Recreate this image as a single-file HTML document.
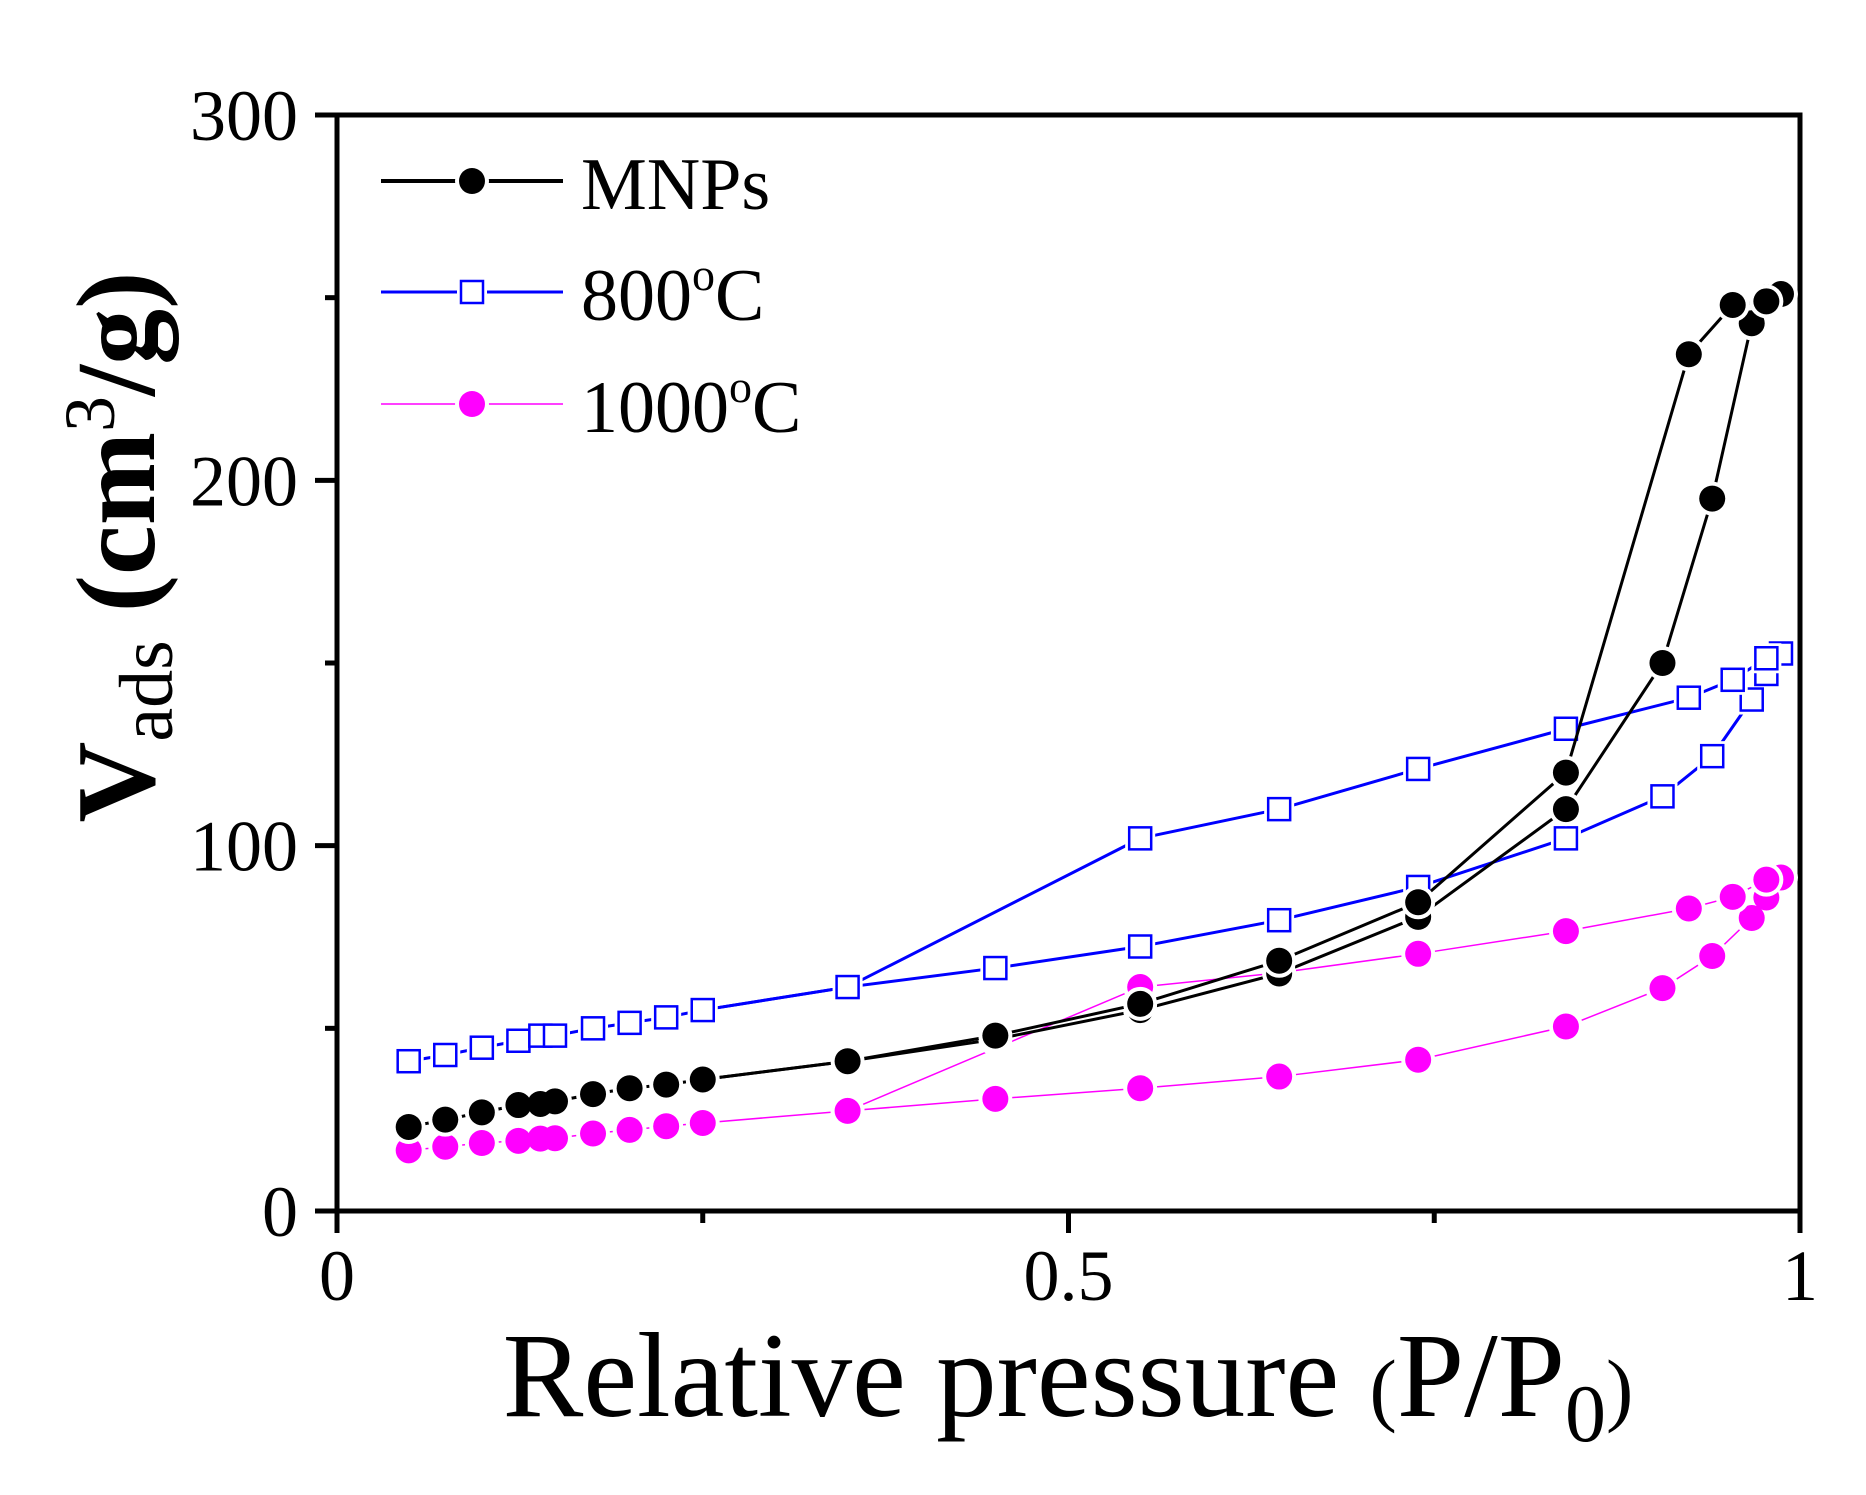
<!DOCTYPE html>
<html><head><meta charset="utf-8"><style>
html,body{margin:0;padding:0;background:#fff}
svg{display:block}
text{font-family:"Liberation Serif",serif;fill:#000}
</style></head><body>
<svg id="chart" width="1866" height="1495" viewBox="0 0 1866 1495" xmlns="http://www.w3.org/2000/svg">
<g id="axes"></g>
<g id="series"></g>
<g id="legend">
  <g>
    <line x1="381" y1="181" x2="563" y2="181" stroke="#000" stroke-width="4"/>
    <circle cx="472" cy="181" r="17" fill="#fff"/>
    <circle cx="472" cy="181" r="13" fill="#000"/>
    <text x="581" y="209" font-size="74">MNPs</text>
  </g>
  <g>
    <line x1="381" y1="292" x2="563" y2="292" stroke="#0000ff" stroke-width="3"/>
    <rect x="457" y="277" width="30" height="30" fill="#fff"/>
    <rect x="461" y="281" width="22" height="22" fill="#fff" stroke="#0000ff" stroke-width="2.5"/>
    <text x="581" y="320" font-size="74">800<tspan font-size="46" dy="-30">o</tspan><tspan dy="30">C</tspan></text>
  </g>
  <g>
    <line x1="381" y1="404" x2="563" y2="404" stroke="#ff00ff" stroke-width="1.5"/>
    <circle cx="472" cy="404" r="17" fill="#fff"/>
    <circle cx="472" cy="404" r="13" fill="#ff00ff"/>
    <text x="581" y="432" font-size="74">1000<tspan font-size="46" dy="-30">o</tspan><tspan dy="30">C</tspan></text>
  </g>
</g>
<text x="1068" y="1416" font-size="121" text-anchor="middle">Relative pressure <tspan font-size="82">(</tspan>P/P<tspan font-size="82" dy="25">0</tspan><tspan dy="-25" font-size="82">)</tspan></text>
<text transform="translate(154,547) rotate(-90)" font-size="112" font-weight="bold" text-anchor="middle">V<tspan font-size="76" font-weight="normal" dy="18">ads</tspan><tspan dy="-18"> (cm</tspan><tspan font-size="72" font-weight="normal" dy="-40">3</tspan><tspan dy="40">/g)</tspan></text>
</svg>
<script>
const xTicks=[0,0.5,1];
const xTickLabels=["0","0.5","1"];
const xMinor=[0.25,0.75];
const yTicks=[0,100,200,300];
const yTickLabels=["0","100","200","300"];
const yMinor=[50,150,250];
const mnpsAdsX=[0.049,0.074,0.099,0.124,0.139,0.149,0.175,0.2,0.225,0.25,0.349,0.45,0.549,0.644,0.739,0.84,0.906,0.94,0.967,0.977,0.987];
const mnpsAdsY=[23,25,27,29,29.3,30,32,33.6,34.6,36,41,47,55,65,80.5,110,150,195,243,250,251];
const mnpsDesX=[0.977,0.954,0.924,0.84,0.739,0.644,0.549,0.45,0.349,0.25];
const mnpsDesY=[249,248,234.5,120,84.5,68.5,56.7,48,41,36];
const c800AdsX=[0.049,0.074,0.099,0.124,0.139,0.149,0.175,0.2,0.225,0.25,0.349,0.45,0.549,0.644,0.739,0.84,0.906,0.94,0.967,0.977,0.987];
const c800AdsY=[41,42.7,44.7,46.6,48,48,50,51.5,53,55,61.3,66.5,72.4,79.6,88.7,102,113.5,124.5,140,147,152.6];
const c800DesX=[0.977,0.954,0.924,0.84,0.739,0.644,0.549,0.349,0.25];
const c800DesY=[151.3,145.4,140.5,132,121,110,102,61.3,55];
const c1000AdsX=[0.049,0.074,0.099,0.124,0.139,0.149,0.175,0.2,0.225,0.25,0.349,0.45,0.549,0.644,0.739,0.84,0.906,0.94,0.967,0.977,0.987];
const c1000AdsY=[16.6,17.6,18.6,19.2,19.8,19.9,21.2,22.2,23.2,24.1,27.4,30.7,33.6,36.8,41.4,50.5,61,69.8,80.2,85.8,91.3];
const c1000DesX=[0.977,0.954,0.924,0.84,0.739,0.644,0.549,0.349];
const c1000DesY=[90.7,86,82.8,76.6,70.4,65.2,61.3,27.4];

const L=337,R=1800,T=115,B=1211;
const sx=v=>L+(R-L)*v/1;
const sy=v=>B-(B-T)*v/300;
const NS="http://www.w3.org/2000/svg";
function mk(tag,attrs,parent){const e=document.createElementNS(NS,tag);for(const k in attrs)e.setAttribute(k,attrs[k]);parent.appendChild(e);return e;}
const axes=document.getElementById('axes');
const frame=mk('rect',{x:L,y:T,width:R-L,height:B-T,fill:'none',stroke:'#000','stroke-width':5},axes);


xTicks.forEach((v,i)=>{
  const t=mk('line',{x1:sx(v),y1:B,x2:sx(v),y2:B+22,stroke:'#000','stroke-width':5},axes);
  
  
  const l=mk('text',{x:sx(v),y:1300,'font-size':72,'text-anchor':'middle'},axes);
  l.textContent=xTickLabels[i];
  
  
});
xMinor.forEach(v=>{
  const t=mk('line',{x1:sx(v),y1:B,x2:sx(v),y2:B+12,stroke:'#000','stroke-width':5},axes);
  
  
});
yTicks.forEach((v,i)=>{
  const t=mk('line',{x1:L-22,y1:sy(v),x2:L,y2:sy(v),stroke:'#000','stroke-width':5},axes);
  
  
  const l=mk('text',{x:298,y:sy(v)+25,'font-size':72,'text-anchor':'end'},axes);
  l.textContent=yTickLabels[i];
  
  
});
yMinor.forEach(v=>{
  const t=mk('line',{x1:L-12,y1:sy(v),x2:L,y2:sy(v),stroke:'#000','stroke-width':5},axes);
  
  
});
const sg=document.getElementById('series');
function series(name,xs,ys,color,lw,shape){
  const g=mk('g',{},sg);
  
  
  const pl=mk('polyline',{points:xs.map((x,i)=>sx(x)+','+sy(ys[i])).join(' '),fill:'none',stroke:color,'stroke-width':lw},g);
  
  
  xs.forEach((x,i)=>{
    if(shape==='circle') mk('circle',{cx:sx(x),cy:sy(ys[i]),r:17,fill:'#fff'},g);
    else mk('rect',{x:sx(x)-15,y:sy(ys[i])-15,width:30,height:30,fill:'#fff'},g);
  });
  xs.forEach((x,i)=>{
    let m;
    if(shape==='circle') m=mk('circle',{cx:sx(x),cy:sy(ys[i]),r:13,fill:color},g);
    else m=mk('rect',{x:sx(x)-11,y:sy(ys[i])-11,width:22,height:22,fill:'#fff',stroke:color,'stroke-width':2.5},g);
    
    
  });
}
series('c800-adsorption',c800AdsX,c800AdsY,'#0000ff',3,'square');
series('c800-desorption',c800DesX,c800DesY,'#0000ff',3,'square');
series('c1000-adsorption',c1000AdsX,c1000AdsY,'#ff00ff',1.5,'circle');
series('c1000-desorption',c1000DesX,c1000DesY,'#ff00ff',1.5,'circle');
series('mnps-adsorption',mnpsAdsX,mnpsAdsY,'#000',3,'circle');
series('mnps-desorption',mnpsDesX,mnpsDesY,'#000',3,'circle');
</script>
</body></html>
